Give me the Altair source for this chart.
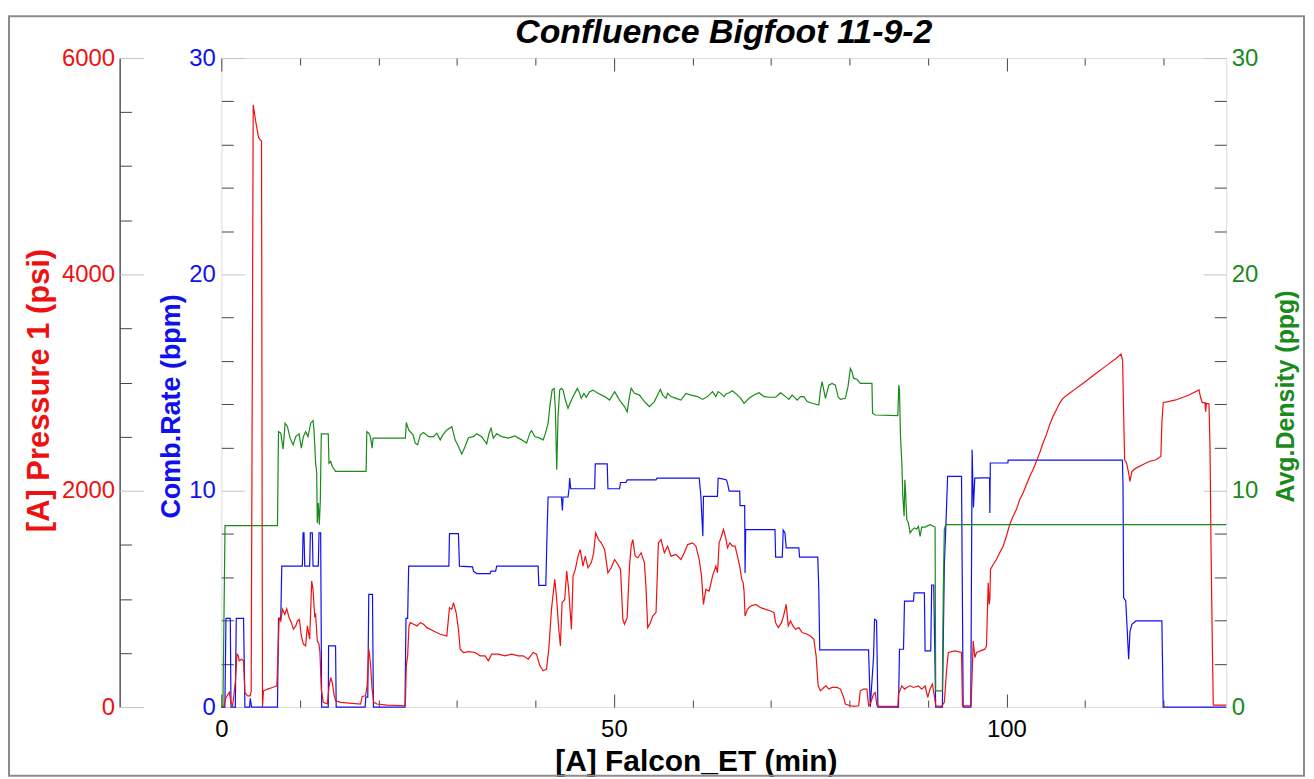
import altair as alt
import pandas as pd

TITLE = "Confluence Bigfoot 11-9-2"
X_TITLE = "[A] Falcon_ET (min)"
RED_TITLE = "[A] Pressure 1 (psi)"
BLUE_TITLE = "Comb.Rate (bpm)"
GREEN_TITLE = "Avg.Density (ppg)"

x_major = [0, 50, 100]
x_minor = [10, 20, 30, 40, 60, 70, 80, 90, 110, 120]
p_major = [0, 2000, 4000, 6000]
p_minor = [500, 1000, 1500, 2500, 3000, 3500, 4500, 5000, 5500]
r_major = [0, 10, 20, 30]
r_minor = [2, 4, 6, 8, 12, 14, 16, 18, 22, 24, 26, 28]

# (time min, pressure psi)
red = [(0.0,0),(0.3,0),(0.59,89),(1.02,135),(1.23,43),(1.44,12),(1.78,227),(1.99,489),(2.16,473),(2.28,427),(2.58,442),(2.83,427),(3.0,135),(3.34,104),(3.68,104),(3.8,150),(4.06,5567),(4.4,5404),(4.74,5266),(4.95,5241),(5.12,5235),(5.24,0),(5.37,150),(5.88,166),(6.51,181),(7.07,196),(7.23,504),(7.36,826),(7.57,796),(7.78,903),(8.08,857),(8.33,909),(8.63,826),(8.93,780),(9.18,719),(9.48,750),(9.69,796),(9.94,811),(10.19,657),(10.45,581),(10.74,565),(10.96,750),(11.25,627),(11.51,1164),(11.68,1088),(11.89,842),(12.01,857),(12.22,611),(12.44,581),(12.56,504),(12.73,166),(12.99,43),(13.49,28),(13.71,181),(13.92,273),(14.13,227),(14.34,120),(14.55,58),(15.19,43),(17.73,28),(17.94,98),(18.36,104),(18.57,196),(18.78,535),(18.99,412),(19.2,166),(19.41,43),(19.84,28),(21.11,18),(23.44,12),(23.56,381),(23.73,473),(23.9,750),(24.07,780),(24.49,765),(24.92,750),(25.34,780),(25.76,765),(26.18,734),(27.03,703),(27.88,673),(28.72,657),(29.06,919),(29.36,903),(29.57,965),(29.91,873),(30.2,719),(30.42,535),(30.84,504),(31.47,512),(32.32,504),(32.96,473),(33.59,473),(34.01,427),(34.43,489),(35.28,489),(36.13,473),(36.97,489),(37.82,473),(38.45,473),(39.09,442),(39.72,504),(40.14,489),(40.57,381),(40.99,335),(41.41,350),(41.71,535),(42.05,903),(42.47,1180),(42.68,1026),(42.98,719),(43.19,565),(43.4,965),(43.74,995),(43.99,1257),(44.24,1088),(44.59,719),(44.8,1210),(45.09,1272),(45.43,1395),(45.72,1456),(46.06,1303),(46.36,1395),(46.7,1287),(47.12,1333),(47.42,1426),(47.67,1610),(48.05,1548),(48.39,1518),(48.82,1456),(49.24,1241),(49.66,1287),(50.09,1364),(50.51,1318),(50.85,1272),(51.14,811),(51.35,765),(51.69,826),(51.99,1303),(52.2,1487),(52.41,1548),(52.71,1395),(53.05,1380),(53.47,1426),(53.89,1333),(54.1,1088),(54.31,734),(54.65,780),(54.95,842),(55.37,873),(55.67,1518),(56.01,1548),(56.43,1426),(56.85,1487),(57.28,1395),(57.91,1410),(58.54,1364),(58.97,1426),(59.39,1502),(60.03,1518),(60.45,1487),(60.87,1364),(61.16,1210),(61.41,949),(61.71,1088),(62.14,1072),(62.56,1210),(62.99,1303),(63.2,1241),(63.41,1518),(63.7,1579),(63.96,1641),(64.26,1560),(64.47,1472),(64.77,1518),(65.1,1487),(65.44,1487),(65.74,1395),(66.03,1303),(66.29,1180),(66.46,1149),(66.58,1072),(66.71,842),(67.01,903),(67.43,934),(68.07,949),(68.7,919),(69.33,903),(69.97,888),(70.39,873),(70.6,780),(70.94,734),(71.36,780),(71.66,857),(71.95,949),(72.21,750),(72.5,796),(72.8,750),(73.14,719),(73.56,734),(73.98,688),(74.62,673),(75.04,657),(75.47,627),(75.76,473),(76.02,196),(76.31,150),(76.74,181),(77.03,196),(77.37,166),(77.79,181),(78.43,181),(78.85,166),(79.27,89),(79.48,28),(80.12,12),(80.54,6),(81.18,12),(81.39,150),(81.81,166),(82.23,166),(82.44,12),(82.66,28),(83.08,120),(83.29,135),(83.5,12),(83.93,6),(86.17,6),(86.25,120),(86.68,196),(87.02,166),(87.31,181),(87.73,196),(88.16,181),(88.79,196),(89.21,166),(89.64,196),(89.98,89),(90.27,166),(90.57,212),(90.82,104),(90.99,12),(91.75,6),(92.09,43),(92.39,350),(92.6,504),(93.44,519),(94.28,504),(94.4,10),(95.5,10),(95.77,611),(95.98,458),(96.19,504),(97.25,535),(97.46,565),(97.68,1149),(97.8,949),(97.89,995),(97.97,1272),(98.31,1318),(98.73,1364),(99.15,1426),(99.58,1487),(100.0,1579),(100.42,1687),(100.85,1763),(101.27,1825),(101.69,1917),(102.12,1979),(102.54,2055),(102.96,2132),(103.38,2194),(103.81,2270),(104.23,2347),(104.65,2439),(105.08,2516),(105.5,2608),(105.92,2685),(106.35,2747),(106.77,2808),(107.19,2854),(108.04,2900),(108.88,2946),(109.73,2992),(110.57,3038),(111.42,3085),(112.27,3131),(113.11,3177),(113.96,3223),(114.59,3263),(114.8,3207),(114.93,2716),(115.06,2286),(115.31,2255),(115.57,2163),(115.74,2086),(115.99,2178),(116.5,2209),(117.35,2240),(118.19,2270),(119.04,2286),(119.67,2317),(119.8,2624),(119.97,2814),(121.57,2839),(123.27,2885),(124.53,2931),(124.75,2854),(124.96,2814),(125.3,2814),(125.38,2731),(125.47,2808),(125.8,2802),(125.93,2409),(126.06,1487),(126.23,565),(126.35,18),(128.0,18)]

# (time min, combined rate bpm)
blue = [(0.0,0),(0.45,0),(0.59,4.1),(1.14,4.1),(1.23,0),(1.78,0),(1.9,4.1),(2.83,4.1),(3.0,0),(3.6,0),(3.68,0.4),(3.85,0),(7.15,0),(7.28,4.1),(7.57,4.1),(7.7,6.51),(10.32,6.51),(10.41,8.05),(10.53,8.05),(10.62,6.51),(11.25,6.51),(11.34,8.05),(11.59,8.05),(11.68,6.51),(12.35,6.51),(12.44,8.05),(12.65,8.05),(12.78,0),(13.62,0),(13.66,2.83),(14.55,2.83),(14.63,0),(18.32,0),(18.4,0.46),(18.65,0.46),(18.78,5.21),(19.25,5.21),(19.37,0),(23.39,0),(23.52,4.1),(23.73,4.1),(23.86,6.51),(28.98,6.51),(29.06,8.02),(30.2,8.02),(30.33,6.51),(32.0,6.48),(32.11,6.28),(32.53,6.17),(34.22,6.17),(34.35,6.28),(34.94,6.28),(35.07,6.51),(40.35,6.51),(40.44,5.62),(41.33,5.62),(41.5,8.23),(41.62,9.71),(43.32,9.71),(43.44,9.09),(43.53,9.71),(44.16,9.71),(44.29,10.09),(44.37,10.58),(44.5,10.09),(47.55,10.09),(47.63,11.24),(49.15,11.24),(49.24,10.09),(50.72,10.09),(50.85,10.38),(51.56,10.38),(51.69,10.5),(55.37,10.5),(55.5,10.58),(60.87,10.58),(61.08,9.74),(61.33,7.9),(61.41,9.74),(63.19,9.74),(63.28,10.58),(63.83,10.55),(64.34,10.5),(64.47,10.35),(64.68,9.98),(66.03,9.98),(66.07,9.31),(66.66,9.31),(66.71,6.2),(66.79,8.2),(70.52,8.2),(70.6,6.93),(71.45,6.93),(71.57,8.18),(71.79,8.05),(71.95,7.36),(73.56,7.36),(73.65,6.93),(75.97,6.93),(76.1,5.44),(76.22,2.64),(82.44,2.64),(82.66,0),(83.08,2.36),(83.2,4.06),(83.46,4.0),(83.63,0),(86.25,0),(86.38,2.67),(86.89,2.67),(87.02,4.9),(88.16,4.9),(88.24,5.28),(89.55,5.28),(89.64,2.6),(90.36,2.6),(90.48,5.64),(90.74,5.64),(90.99,0),(91.84,0),(92.09,6.5),(92.3,8.51),(92.51,10.66),(94.28,10.66),(94.49,0),(95.46,0),(95.63,11.89),(95.8,9.22),(95.97,10.58),(97.85,10.6),(97.89,8.97),(97.95,11.28),(100.18,11.28),(100.22,11.41),(114.78,11.41),(114.85,10.2),(114.93,5.05),(115.2,4.9),(115.57,2.21),(115.74,3.5),(115.99,3.82),(116.5,3.98),(119.8,3.98),(119.97,0),(128.0,0)]

# (time min, average density ppg)
green = [(0.0,0),(0.2,0),(0.47,8.39),(7.15,8.39),(7.28,12.73),(7.57,12.66),(7.87,11.92),(8.12,13.12),(8.42,12.96),(8.76,12.43),(9.14,12.12),(9.48,12.5),(9.9,12.63),(10.19,11.97),(10.45,12.5),(10.74,12.73),(11.04,12.5),(11.38,13.12),(11.68,13.24),(11.8,12.81),(12.01,11.27),(12.14,10.89),(12.22,8.51),(12.35,9.43),(12.48,8.43),(12.61,9.58),(12.73,12.63),(13.62,12.63),(13.71,11.27),(13.92,11.35),(14.13,11.12),(14.55,10.89),(18.44,10.89),(18.53,12.73),(18.78,12.66),(18.99,12.5),(19.2,11.97),(19.33,12.43),(23.44,12.43),(23.56,13.15),(23.86,12.81),(24.41,12.58),(24.7,12.2),(25.0,12.12),(25.34,12.58),(25.76,12.69),(26.4,12.5),(27.03,12.5),(27.45,12.66),(27.88,12.35),(28.21,12.58),(28.72,12.81),(29.36,12.96),(29.78,12.35),(30.2,12.04),(30.63,11.69),(31.05,12.04),(31.47,12.45),(32.11,12.5),(32.53,12.63),(33.16,12.5),(33.8,12.17),(34.1,12.66),(34.35,12.89),(34.64,12.43),(35.07,12.63),(35.7,12.5),(36.55,12.43),(37.4,12.53),(38.24,12.35),(38.88,12.2),(39.3,12.66),(39.51,12.78),(39.93,12.5),(40.57,12.43),(40.99,12.35),(41.29,12.66),(41.62,13.12),(41.84,13.89),(42.13,14.65),(42.39,14.73),(42.55,13.73),(42.72,10.97),(42.89,13.43),(43.1,14.65),(43.32,14.73),(43.53,14.65),(43.82,14.19),(44.16,13.81),(44.59,14.19),(45.01,14.5),(45.35,14.73),(45.64,14.5),(45.85,14.27),(46.19,14.5),(46.49,14.32),(46.91,14.58),(47.34,14.65),(47.97,14.5),(48.82,14.35),(49.45,14.19),(50.09,14.58),(50.72,14.19),(51.35,13.89),(51.69,13.65),(51.99,14.35),(52.2,14.73),(52.62,14.5),(53.26,14.42),(53.89,14.12),(54.53,13.89),(55.16,14.12),(55.67,14.5),(55.92,14.68),(56.22,14.42),(56.64,14.27),(56.85,14.5),(57.28,14.35),(57.91,14.27),(58.54,14.19),(59.18,14.5),(59.81,14.42),(60.66,14.35),(61.29,14.22),(61.93,14.35),(62.56,14.58),(62.99,14.35),(63.28,14.58),(63.62,14.5),(64.04,14.35),(64.26,14.47),(64.68,14.53),(65.1,14.62),(65.74,14.42),(66.16,14.27),(66.58,14.04),(67.22,14.27),(67.85,14.42),(68.49,14.53),(69.12,14.35),(69.76,14.32),(70.6,14.32),(71.24,14.53),(71.87,14.35),(72.29,14.22),(72.72,14.42),(73.35,14.19),(73.77,14.35),(74.2,14.35),(74.62,14.12),(75.25,14.04),(76.1,13.96),(76.31,14.65),(76.52,15.04),(76.74,14.65),(76.95,14.27),(77.37,14.88),(77.79,14.96),(78.21,14.88),(78.55,14.35),(78.85,14.22),(79.48,14.27),(79.82,14.81),(80.12,15.65),(80.33,15.5),(80.54,15.19),(80.96,15.15),(81.39,14.96),(82.87,14.96),(82.95,13.58),(83.29,13.5),(86.17,13.47),(86.29,14.88),(86.38,14.65),(86.51,12.5),(86.68,11.27),(86.8,9.74),(86.97,8.82),(87.06,10.5),(87.14,10.05),(87.31,8.66),(87.52,8.51),(87.73,8.05),(88.03,8.2),(88.28,8.28),(88.58,8.23),(88.79,8.36),(89.0,7.89),(89.21,8.32),(89.64,8.32),(90.27,8.43),(90.91,8.32),(90.99,0.75),(91.84,0.75),(91.96,5.44),(92.09,8.2),(92.26,8.43),(128.0,8.43)]


def to_df(points):
    return pd.DataFrame({
        "t": [p[0] for p in points],
        "v": [p[1] for p in points],
        "i": list(range(len(points))),
    })


red_df = to_df(red)
blue_df = to_df(blue)
green_df = to_df(green)

W, H = 1008, 651
FONT = "Liberation Sans"
RED_C = "#ee1111"
BLUE_C = "#1111ee"
GREEN_C = "#1a8a1a"
DARK = "#444444"
LIGHT = "#c4c4c4"

xs = alt.Scale(domain=[0, 128], nice=False, zero=False)
ps = alt.Scale(domain=[0, 6000], nice=False)
rs = alt.Scale(domain=[0, 30], nice=False)


def tick_axis(orient, offset, values, size, color):
    return alt.Axis(orient=orient, offset=offset, values=values, ticks=True,
                    tickSize=size, tickColor=color, tickWidth=1, labels=False,
                    domain=False, grid=False, title=None)


def label_axis(orient, offset, values, color, title, tsize, tx, ty, **kw):
    return alt.Axis(orient=orient, offset=offset, values=values, ticks=False,
                    grid=False, labelColor=color, labelFontSize=24, labelFont=FONT,
                    format="d",
                    title=title, titleColor=color, titleFontSize=tsize, titleFont=FONT,
                    titleFontWeight="bold", titleBaseline="middle", titleAlign="center",
                    titleX=tx, titleY=ty, **kw)


frame_layer = alt.Chart(pd.DataFrame({"k": [0]})).mark_rect(
    fill="white", fillOpacity=0, stroke="#8c8c8c", strokeWidth=2
).encode(x=alt.value(-213), x2=alt.value(1086), y=alt.value(-42), y2=alt.value(720))

blue_line = alt.Chart(blue_df).mark_line(color=BLUE_C, strokeWidth=1.2).encode(
    x=alt.X("t:Q", scale=xs, axis=None),
    y=alt.Y("v:Q", scale=rs, axis=label_axis("left", 0, r_major, BLUE_C, BLUE_TITLE, 27, -50, 349,
                                            domain=False, labelPadding=6, titleAngle=270)),
    order="i:Q",
)

red_line = alt.Chart(red_df).mark_line(color=RED_C, strokeWidth=1.2).encode(
    x=alt.X("t:Q", scale=xs, axis=alt.Axis(
        orient="bottom", values=x_major, ticks=False, domain=False, grid=False,
        labelFontSize=24, labelFont=FONT, labelColor="black", labelPadding=11, labelFlush=False,
        title=X_TITLE, titleFontSize=30, titleFont=FONT, titleFontWeight="bold", titleColor="black",
        titleX=476, titleY=55, titleBaseline="middle", titleAlign="center")),
    y=alt.Y("v:Q", scale=ps, axis=label_axis("left", 102, p_major, RED_C, RED_TITLE, 31, -80, 333,
                                            domain=True, domainColor="#555555", domainWidth=1.5,
                                            labelPadding=5, titleAngle=270)),
    order="i:Q",
)

green_line = alt.Chart(green_df).mark_line(color=GREEN_C, strokeWidth=1.2).encode(
    x=alt.X("t:Q", scale=xs, axis=None),
    y=alt.Y("v:Q", scale=rs, axis=label_axis("right", 0, r_major, GREEN_C, GREEN_TITLE, 25, 59, 339,
                                            domain=False, labelPadding=5, titleAngle=270)),
    order="i:Q",
)


def ghost(yscale, yaxis, xaxis):
    return alt.Chart(blue_df).mark_line(opacity=0).encode(
        x=alt.X("t:Q", scale=xs, axis=xaxis),
        y=alt.Y("v:Q", scale=yscale, axis=yaxis),
        order="i:Q",
    )


t1 = ghost(ps, tick_axis("right", -(W + 102), p_minor, 12, DARK), tick_axis("top", -H, x_minor, 7, DARK))
t2 = ghost(ps, tick_axis("right", -(W + 102), p_major, 24, LIGHT), tick_axis("top", -H, x_major, 13, DARK))
t3 = ghost(rs, tick_axis("right", -W, r_minor, 12, DARK), tick_axis("bottom", -H, x_minor, 7, DARK))
t4 = ghost(rs, tick_axis("right", -W, r_major, 23, LIGHT), tick_axis("bottom", -H, x_major, 13, DARK))
t5 = ghost(rs, tick_axis("left", -W, r_minor, 12, DARK), None)
t6 = ghost(rs, tick_axis("left", -W, r_major, 23, LIGHT), None)

chart = alt.layer(
    frame_layer, blue_line, red_line, green_line, t1, t2, t3, t4, t5, t6
).resolve_scale(y="independent").resolve_axis(x="independent", y="independent").properties(
    width=W, height=H,
    autosize=alt.AutoSizeParams(type="none"),
    padding={"left": 214, "top": 49, "right": 80, "bottom": 71},
    title=alt.TitleParams(TITLE, fontSize=34, font=FONT, fontWeight="bold", fontStyle="italic",
                          color="black", anchor="middle", frame="group", offset=-35),
).configure_view(stroke="#555555", strokeWidth=1.5).configure(background="white")

chart.save("out.html", embed_options={"renderer": "svg", "actions": False})
